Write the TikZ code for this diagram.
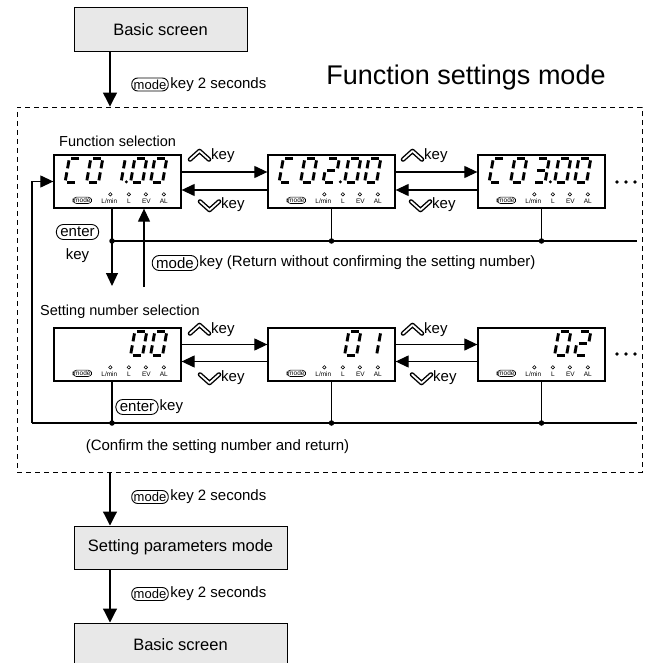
\documentclass[tikz,border=0pt]{standalone}
\usepackage{fontspec}
\setmainfont{Liberation Sans}
\usetikzlibrary{arrows.meta,calc}

\tikzset{
  every node/.style={font=\fontsize{15}{18}\selectfont, inner sep=0pt},
  ln/.style={line width=1.2pt},
  arr/.style={ln, -{Triangle[length=13pt,width=12pt]}},
  bigarr/.style={ln, -{Triangle[length=14pt,width=14pt]}},
  graybox/.style={draw, line width=1pt, fill=gray!18, minimum width=173pt, minimum height=44pt, font=\fontsize{16.5}{19}\selectfont},
  disp/.style={draw, line width=1.3pt, minimum width=127pt, minimum height=53pt},
  seg/.style={line width=2.9pt},
  keycap/.style={draw, rounded corners=7pt, line width=0.9pt, inner xsep=4pt, inner ysep=1.5pt, minimum height=15pt},
  keycapS/.style={draw, rounded corners=6pt, line width=0.9pt, inner xsep=2pt, inner ysep=1pt, minimum height=13pt, font=\fontsize{13}{15}\selectfont},
  dkey/.style={draw, line width=0.6pt, rounded corners=3.5pt, inner xsep=1.2pt, inner ysep=0.8pt, font=\fontsize{6.5}{7}\selectfont},
  ind/.style={font=\fontsize{6.5}{7}\selectfont},
  dot/.style={circle, fill, minimum size=5.5pt, inner sep=0pt},
  ell/.style={circle, fill, minimum size=3.6pt, inner sep=0pt},
  chevout/.style={line width=4.6pt, line cap=round, line join=round},
  chevin/.style={white, line width=1.8pt, line cap=round, line join=round},
  framebox/.style={draw, dash pattern=on 5pt off 4pt, line width=0.9pt, minimum width=625pt, minimum height=365pt},
}

\newcommand\Sega{\draw[seg] (2,0)--(10,0);}
\newcommand\Segb{\draw[seg] (12,2)--(12,10);}
\newcommand\Segc{\draw[seg] (12,14)--(12,22);}
\newcommand\Segd{\draw[seg] (2,24)--(10,24);}
\newcommand\Sege{\draw[seg] (0,14)--(0,22);}
\newcommand\Segf{\draw[seg] (0,2)--(0,10);}
\newcommand\Segg{\draw[seg] (2,12)--(10,12);}

% #1 display node, #2 x offset, #3 segments
\newcommand\SevDigit[3]{\begin{scope}[shift={($(#1.north west)+(#2,4)$)},xslant=0.18]
  \foreach \s in {#3}{\csname Seg\s\endcsname}\end{scope}}
\newcommand\DecPt[1]{\fill ($(#1.north west)+(73,27.5)$) circle (1.7pt);}

\newcommand\Indic[1]{%
  \node[dkey] (#1-mode) at ($(#1.north west)+(29,46)$) {mode};
  \node[ind] (#1-lmin) at ($(#1.north west)+(56,47)$) {L/min};
  \node[ind] (#1-l) at ($(#1.north west)+(75.5,47)$) {L};
  \node[ind] (#1-ev) at ($(#1.north west)+(93,47)$) {EV};
  \node[ind] (#1-al) at ($(#1.north west)+(110.5,47)$) {AL};
  \foreach \xo in {57,75.5,92.5,110.5}{\draw[line width=0.6pt] ($(#1.north west)+(\xo,40)$) circle (1.7pt);}
}

% up/down key labels: #1 name, #2 chevron left x, #3 centre y
\newcommand\UpKey[3]{%
  \draw[chevout] (#2,#3+3.5) -- (#2+9.5,#3-5) -- (#2+19,#3+3.5);
  \draw[chevin] (#2,#3+3.5) -- (#2+9.5,#3-5) -- (#2+19,#3+3.5);
  \node[anchor=west] (#1) at (#2+21,#3) {key};
}
\newcommand\DnKey[3]{%
  \draw[chevout] (#2,#3-3.5) -- (#2+9.5,#3+5) -- (#2+19,#3-3.5);
  \draw[chevin] (#2,#3-3.5) -- (#2+9.5,#3+5) -- (#2+19,#3-3.5);
  \node[anchor=west] (#1) at (#2+21,#3) {key};
}
\newcommand\Ellip[2]{%
  \node[ell] (#1a) at (617,#2) {};
  \node[ell] (#1b) at (626,#2) {};
  \node[ell] (#1c) at (635,#2) {};
}

\begin{document}
\begin{tikzpicture}[x=1pt,y=-1pt]
\clip (0,0) rectangle (660,663);

% top
\node[graybox] (b1) at (160.5,30) {Basic screen};
\node[framebox] (frame) at (329.5,289.5) {};
\coordinate (ft) at (110,107);
\draw[bigarr] (b1.south -| ft) -- (frame.north -| ft);
\node[keycapS] (k1) at (150,84.5) {mode};
\node[anchor=west] (t1) at ([xshift=1.5pt]k1.east) {key 2 seconds};
\node[font=\fontsize{27}{31}\selectfont] (title) at (466,78) {Function settings mode};

% function selection row
\node[anchor=west, font=\fontsize{14.5}{17}\selectfont] (fsel) at (59,141) {Function selection};
\node[disp] (f1) at (117.5,181.5) {};
\node[disp] (f2) at (331.5,181.5) {};
\node[disp] (f3) at (541.5,181.5) {};
\foreach \b/\d in {f1/1,f2/2,f3/3}{
  \SevDigit{\b}{16}{a,d,e,f}
  \SevDigit{\b}{37.5}{a,b,c,d,e,f}
  \SevDigit{\b}{81.5}{a,b,c,d,e,f}
  \SevDigit{\b}{101.5}{a,b,c,d,e,f}
  \DecPt{\b}
  \Indic{\b}
}
\SevDigit{f1}{60}{b,c}
\SevDigit{f2}{60}{a,b,g,e,d}
\SevDigit{f3}{60}{a,b,g,c,d}

\draw[arr] ([yshift=9.5pt]f1.east) -- ([yshift=9.5pt]f2.west);
\draw[arr] ([yshift=-8.5pt]f2.west) -- ([yshift=-8.5pt]f1.east);
\draw[arr] ([yshift=9.5pt]f2.east) -- ([yshift=9.5pt]f3.west);
\draw[arr] ([yshift=-8.5pt]f3.west) -- ([yshift=-8.5pt]f2.east);
\UpKey{u1}{190}{156}
\DnKey{dk1}{200}{205}
\UpKey{u2}{403}{156}
\DnKey{dk2}{411}{205}
\Ellip{e1}{182}

\coordinate (d11) at (112,241);
\coordinate (d12) at (331.5,241);
\coordinate (d13) at (541.5,241);
\coordinate (r1) at (637,241);
\draw[ln] (d11) -- (r1);
\draw[ln] (f2.south) -- (d12);
\draw[ln] (f3.south) -- (d13);
\node[dot] (p11) at (d11) {};
\node[dot] (p12) at (d12) {};
\node[dot] (p13) at (d13) {};
\coordinate (dn) at (112,286);
\coordinate (up0) at (144,287);
\draw[arr] (f1.south -| d11) -- (dn);
\draw[arr] (up0) -- (f1.south -| up0);
\node[keycap] (ent1) at (77.5,232) {enter};
\node (ek1) at (77.5,256) {key};
\node[keycap] (mr) at (175,263) {mode};
\node[anchor=west] (mrt) at ([xshift=1pt]mr.east) {key (Return without confirming the setting number)};

% setting number row
\node[anchor=west, font=\fontsize{14.5}{17}\selectfont] (ssel) at (40,312) {Setting number selection};
\node[disp] (s1) at (117.5,354.5) {};
\node[disp] (s2) at (331.5,354.5) {};
\node[disp] (s3) at (541.5,354.5) {};
\foreach \b in {s1,s2,s3}{\SevDigit{\b}{81.5}{a,b,c,d,e,f}\Indic{\b}}
\SevDigit{s1}{101.5}{a,b,c,d,e,f}
\SevDigit{s2}{101.5}{b,c}
\SevDigit{s3}{101.5}{a,b,g,e,d}

\draw[arr] ([yshift=10pt]s1.east) -- ([yshift=10pt]s2.west);
\draw[arr] ([yshift=-7pt]s2.west) -- ([yshift=-7pt]s1.east);
\draw[arr] ([yshift=10pt]s2.east) -- ([yshift=10pt]s3.west);
\draw[arr] ([yshift=-7pt]s3.west) -- ([yshift=-7pt]s2.east);
\UpKey{u3}{190}{330}
\DnKey{dk3}{200}{378}
\UpKey{u4}{403}{330}
\DnKey{dk4}{412}{378}
\Ellip{e2}{354}

\coordinate (lp) at (32,423);
\coordinate (d21) at (112,423);
\coordinate (d22) at (331.5,423);
\coordinate (d23) at (541.5,423);
\coordinate (r2) at (637,423);
\draw[ln] (s1.south -| d21) -- (d21);
\draw[ln] (s2.south) -- (d22);
\draw[ln] (s3.south) -- (d23);
\draw[ln] (r2) -- (lp);
\draw[arr] (lp) |- (f1.west);
\node[dot] (p21) at (d21) {};
\node[dot] (p22) at (d22) {};
\node[dot] (p23) at (d23) {};
\node[keycap] (ent2) at (137,407) {enter};
\node[anchor=west] (ek2) at ([xshift=1pt]ent2.east) {key};
\node (conf) at (217.5,447) {(Confirm the setting number and return)};

% bottom
\node[graybox, minimum width=213pt, minimum height=43pt] (spm) at (180.5,547.5) {Setting parameters mode};
\draw[bigarr] (frame.south -| ft) -- (spm.north -| ft);
\node[keycapS] (k2) at (150,497) {mode};
\node[anchor=west] (t2) at ([xshift=1.5pt]k2.east) {key 2 seconds};
\node[graybox, minimum width=213pt] (b2) at (180.5,645) {Basic screen};
\draw[bigarr] (spm.south -| ft) -- (b2.north -| ft);
\node[keycapS] (k3) at (150,594) {mode};
\node[anchor=west] (t3) at ([xshift=1.5pt]k3.east) {key 2 seconds};
\end{tikzpicture}
\end{document}
